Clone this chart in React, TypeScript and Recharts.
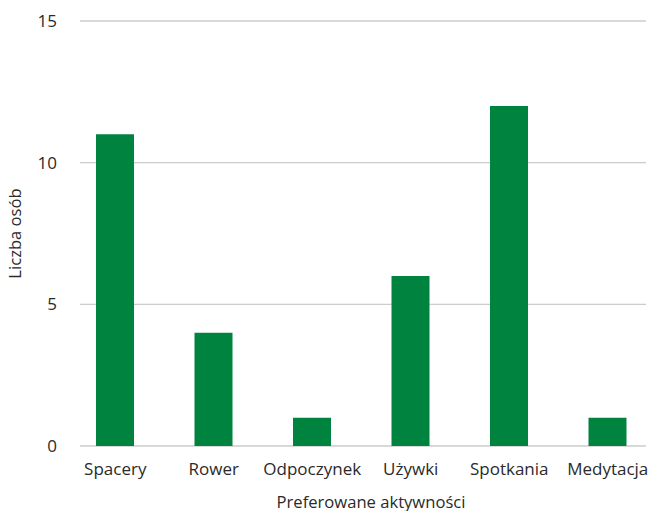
import React from "react";
import { BarChart, Bar, XAxis, YAxis, CartesianGrid } from "recharts";

// Preferred activities and the number of people choosing each
const categories = ["Spacery", "Rower", "Odpoczynek", "Używki", "Spotkania", "Medytacja"];
const counts = [11, 4, 1, 6, 12, 1];
const yTicks = [0, 5, 10, 15];

const data = categories.map((name, i) => ({ name, value: counts[i] }));

const FONT = "'Open Sans', sans-serif";
const TEXT = "#2a2a2a";

export default function App() {
  return (
    // pinned to the page corner so the chart fills the whole window
    <div style={{ position: "absolute", left: 0, top: 0, width: 650, height: 511 }}>
      <BarChart
        width={650}
        height={511}
        data={data}
        margin={{ top: 21, right: 4, bottom: 0, left: 0 }}
        style={{ fontFamily: FONT }}
      >
        <CartesianGrid vertical={false} stroke="#cccccc" strokeWidth={1.4} />
        <XAxis
          dataKey="name"
          height={65}
          axisLine={false}
          tickLine={false}
          tickMargin={11}
          padding={{ left: -14, right: -11 }}
          interval={0}
          tick={{ fill: TEXT, fontSize: 17, fontFamily: FONT }}
          label={{
            value: "Preferowane aktywności",
            position: "insideBottom",
            offset: 3,
            dx: 8,
            fill: TEXT,
            fontSize: 16.6,
            fontFamily: FONT,
          }}
        />
        <YAxis
          width={80}
          domain={[0, 15]}
          ticks={yTicks}
          axisLine={false}
          tickLine={false}
          tickMargin={17}
          tick={{ fill: TEXT, fontSize: 17, fontFamily: FONT }}
          label={{
            value: "Liczba osób",
            angle: -90,
            position: "insideLeft",
            offset: 15,
            fill: TEXT,
            fontSize: 16.6,
            fontFamily: FONT,
            style: { textAnchor: "middle" },
          }}
        />
        <Bar dataKey="value" fill="#00833e" barSize={38} isAnimationActive={false} />
      </BarChart>
    </div>
  );
}
